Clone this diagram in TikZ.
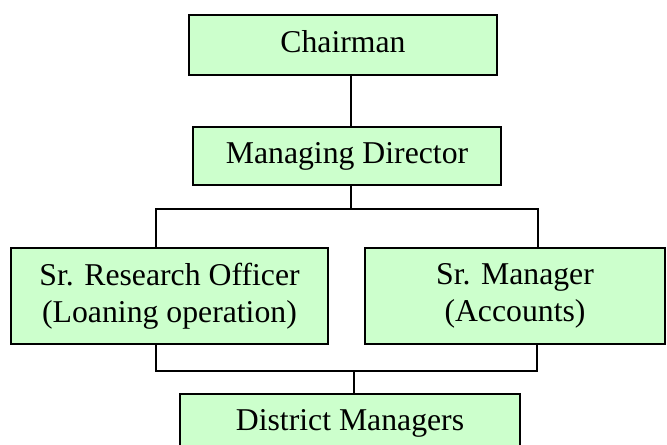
\documentclass[tikz,border=0pt]{standalone}
\usepackage{fontspec}
\setmainfont{Liberation Serif}

\definecolor{boxgreen}{RGB}{204,255,204}

\tikzset{
  unit/.style={draw=black, fill=boxgreen, line width=1.5pt, inner sep=0pt,
    align=center, text height=16.7pt, text depth=6pt,
    font=\fontsize{23.8}{27.75}\selectfont},
  twoline/.style={unit, text height=, text depth=},
  link/.style={line width=1.5pt}
}

\begin{document}
\begin{tikzpicture}[x=0.75pt, y=-0.75pt]
  \useasboundingbox[fill=white] (0,0) rectangle (667,444);

  % Kaestchen
  \node[unit, minimum width=231pt, minimum height=45pt] (chair) at (343,45) {Chairman};
  \node[unit, minimum width=231pt, minimum height=43.5pt] (md) at (347,156) {Managing Director};
  \node[twoline, minimum width=237.75pt, minimum height=72pt] (sro) at (169.5,296) {Sr. Research Officer\\(Loaning operation)};
  \node[twoline, minimum width=225pt, minimum height=72pt] (mgr) at (515,296) {Sr. Manager\\(Accounts)};
  \node[unit, minimum width=255pt, minimum height=43.5pt] (dist) at (350,423) {District Managers};

  % Verzweigung oben
  \coordinate (split) at (351,209);
  \coordinate (splitL) at (156,209);
  \coordinate (splitR) at (538,209);
  \draw[link] (chair.south -| split) -- (md.north -| split);
  \draw[link] (md.south -| split) -- (split);
  \draw[link] (sro.north -| splitL) -- (splitL) -- (splitR) -- (mgr.north -| splitR);

  % Zusammenfuehrung unten
  \coordinate (merge) at (354,371);
  \coordinate (mergeL) at (156,371);
  \coordinate (mergeR) at (537,371);
  \draw[link] (sro.south -| mergeL) -- (mergeL) -- (mergeR) -- (mgr.south -| mergeR);
  \draw[link] (merge) -- (dist.north -| merge);
\end{tikzpicture}
\end{document}
